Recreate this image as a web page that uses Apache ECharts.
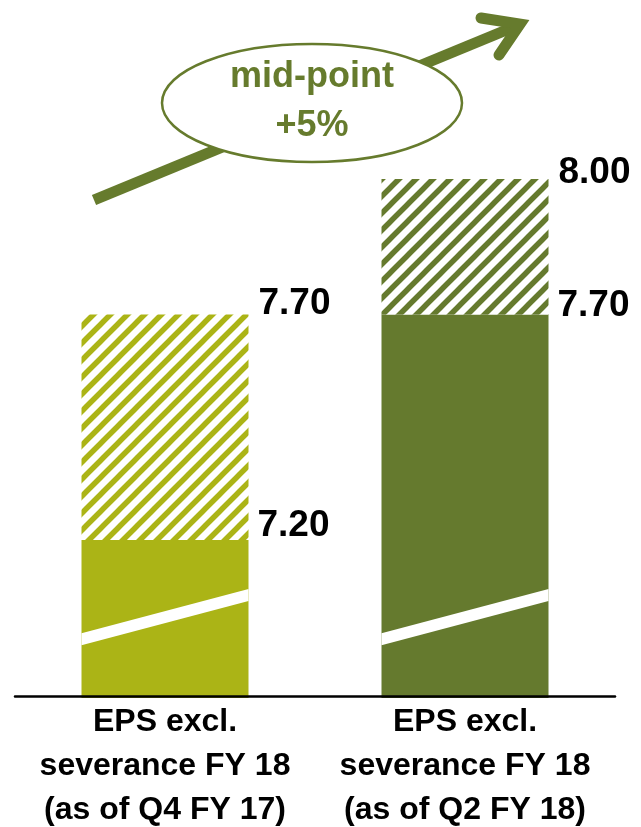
<!DOCTYPE html>
<html>
<head>
<meta charset="utf-8">
<script src="https://cdn.jsdelivr.net/npm/echarts@6/dist/echarts.min.js"></script>
<style>
html,body{margin:0;padding:0;background:#fff;}
#chart{width:641px;height:827px;}
</style>
</head>
<body>
<div id="chart"></div>
<script>
// ---- data ----
const categories = ['EPS excl.\nseverance FY 18\n(as of Q4 FY 17)', 'EPS excl.\nseverance FY 18\n(as of Q2 FY 18)'];
const lowValues = [7.20, 7.70];
const highValues = [7.70, 8.00];
const axisMin = 6.85;
const axisMax = 8.00;
const breakLeft = [6.98, 6.98];
const breakRight = [7.078, 7.078];
const annotationLines = ['mid-point', '+5%'];

// ---- styles ----
const barColors = ['#ABB416', '#657A2E'];
const arrowColor = '#667B2D';
const lowLabelDy = [-14, -9];
const highLabelDy = [-11, -6];
const BAR_W = 167;
const FONT = "'Liberation Sans', Arial, sans-serif";

function hatch(color) {
  const P = 17;
  const c = document.createElement('canvas');
  c.width = P; c.height = P;
  const ctx = c.getContext('2d');
  ctx.fillStyle = '#fff';
  ctx.fillRect(0, 0, P, P);
  ctx.strokeStyle = color;
  ctx.lineWidth = 5.5;
  ctx.beginPath();
  ctx.moveTo(-P, P); ctx.lineTo(P, -P);
  ctx.moveTo(0, P); ctx.lineTo(P, 0);
  ctx.moveTo(0, 2 * P); ctx.lineTo(2 * P, 0);
  ctx.stroke();
  return { image: c, repeat: 'repeat' };
}

const labelBase = {
  show: true,
  position: ['100%', 0],
  align: 'left',
  verticalAlign: 'middle',
  color: '#000',
  fontFamily: FONT,
  fontWeight: 'bold',
  fontSize: 37
};

const chart = echarts.init(document.getElementById('chart'));
chart.setOption({
  animation: false,
  grid: { left: 15, right: 26, top: 179, bottom: 129, containLabel: false, outerBoundsMode: 'none' },
  xAxis: {
    type: 'category',
    data: categories,
    offset: -2,
    z: 5,
    axisLine: { show: true, lineStyle: { color: '#000', width: 2.5 } },
    axisTick: { show: false },
    axisLabel: {
      margin: 4,
      color: '#000',
      fontFamily: FONT,
      fontWeight: 'bold',
      fontSize: 32,
      lineHeight: 44,
      interval: 0
    }
  },
  yAxis: {
    type: 'value', min: axisMin, max: axisMax, show: false,
    splitLine: { show: false }
  },
  series: [
    {
      type: 'bar', stack: 'eps', barWidth: BAR_W,
      data: lowValues.map((v, i) => ({
        value: v, itemStyle: { color: barColors[i] },
        label: { offset: [9, lowLabelDy[i]] }
      })),
      label: Object.assign({}, labelBase, {
        formatter: p => lowValues[p.dataIndex].toFixed(2)
      }),
      emphasis: { disabled: true }
    },
    {
      type: 'bar', stack: 'eps', barWidth: BAR_W,
      data: highValues.map((v, i) => ({
        value: +(v - lowValues[i]).toFixed(4), itemStyle: { color: hatch(barColors[i]) },
        label: { offset: [10, highLabelDy[i]] }
      })),
      label: Object.assign({}, labelBase, {
        formatter: p => highValues[p.dataIndex].toFixed(2)
      }),
      emphasis: { disabled: true }
    },
    {
      type: 'custom', z: 4,
      encode: { x: 0, y: [1, 2] },
      data: categories.map((c, i) => [i, breakLeft[i], breakRight[i]]),
      renderItem: function (params, api) {
        const i = api.value(0);
        const a = api.coord([i, api.value(1)]);
        const b = api.coord([i, api.value(2)]);
        const hw = BAR_W / 2, t = 6;
        return {
          type: 'polygon',
          shape: { points: [[a[0] - hw, a[1] - t], [a[0] + hw, b[1] - t], [a[0] + hw, b[1] + t], [a[0] - hw, a[1] + t]] },
          style: { fill: '#fff' }
        };
      }
    }
  ],
  graphic: [
    { type: 'line', z: 10, shape: { x1: 94, y1: 200, x2: 521, y2: 24 }, style: { stroke: arrowColor, lineWidth: 11, lineCap: 'butt' } },
    { type: 'polyline', z: 10, shape: { points: [[481, 18], [520, 24], [499, 55]] }, style: { stroke: arrowColor, lineWidth: 11, lineCap: 'round', lineJoin: 'miter', miterLimit: 10, fill: null } },
    { type: 'ellipse', z: 11, shape: { cx: 312, cy: 103, rx: 150, ry: 59 }, style: { fill: '#fff', stroke: arrowColor, lineWidth: 2.5 } },
    { type: 'text', z: 12, x: 312, y: 77, style: { text: annotationLines[0], fill: arrowColor, font: "bold 36px 'Liberation Sans', Arial, sans-serif", align: 'center', verticalAlign: 'middle' } },
    { type: 'text', z: 12, x: 312, y: 126, style: { text: annotationLines[1], fill: arrowColor, font: "bold 36px 'Liberation Sans', Arial, sans-serif", align: 'center', verticalAlign: 'middle' } }
  ]
});
</script>
</body>
</html>
